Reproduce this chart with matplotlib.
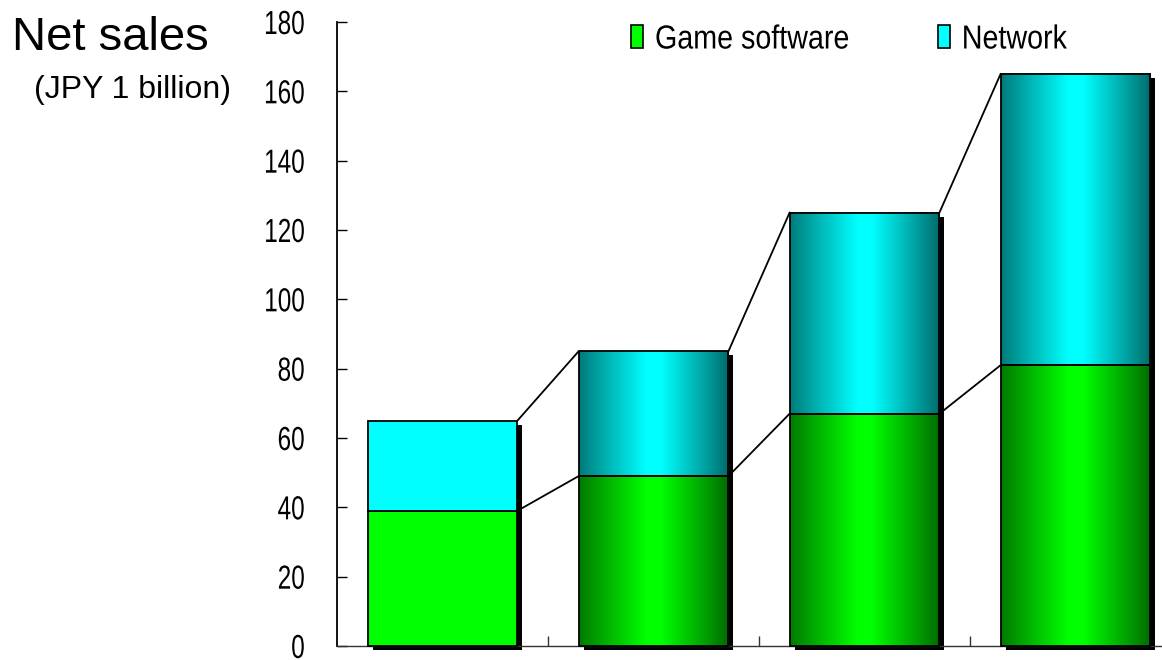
import numpy as np
import matplotlib
matplotlib.use("Agg")
import matplotlib.pyplot as plt
from matplotlib import font_manager as fm
from matplotlib.patches import Patch
from matplotlib.patheffects import AbstractPathEffect
from matplotlib.transforms import ScaledTranslation, Affine2D

# ---- data ----
categories = ["FY1", "FY2", "FY3", "FY4"]
game_software = [39, 49, 67, 81]
network = [26, 36, 58, 84]
y_ticks = [0, 20, 40, 60, 80, 100, 120, 140, 160, 180]
series_names = ["Game software", "Network"]
gradient_bar = [False, True, True, True]


class HSqueeze(AbstractPathEffect):
    """Draw text narrower (condensed look), anchored left or right."""

    def __init__(self, sx, anchor="left"):
        super().__init__()
        self.sx = sx
        self.anchor = anchor

    def draw_path(self, renderer, gc, tpath, affine, rgbFace=None):
        px = tpath.get_extents().x1 if self.anchor == "right" else 0.0
        tr = Affine2D().translate(-px, 0).scale(self.sx, 1).translate(px, 0) + affine
        renderer.draw_path(gc, tpath, tr, rgbFace)


# ---- fonts ----
names = {f.name for f in fm.fontManager.ttflist}
main_family = "Liberation Sans" if "Liberation Sans" in names else "DejaVu Sans"

W, H, DPI = 1162, 660, 100
fig = plt.figure(figsize=(W / DPI, H / DPI), dpi=DPI)
ax = fig.add_axes([337 / W, 14 / H, 844 / W, 624 / H])

x = np.arange(len(categories)) + 0.5
width = 0.71
totals = [g + n for g, n in zip(game_software, network)]

# shadows
shadow_tr = ax.transData + ScaledTranslation(5 / DPI, -4 / DPI, fig.dpi_scale_trans)
ax.bar(x, totals, width=width, color="black", zorder=1, transform=shadow_tr,
       clip_on=False, linewidth=0)

game_bars = ax.bar(x, game_software, width=width, color="#00FF00",
                   edgecolor="black", linewidth=1.3, zorder=3, clip_on=False)
net_bars = ax.bar(x, network, bottom=game_software, width=width, color="#00FFFF",
                  edgecolor="black", linewidth=1.3, zorder=3, clip_on=False)

# gradient fills
t = np.linspace(0, 1, 256)
v = np.interp(t, [0, 0.15, 0.45, 0.55, 0.85, 1.0], [0.48, 0.66, 1.0, 1.0, 0.62, 0.42])
grad_green = np.zeros((1, 256, 3))
grad_green[0, :, 1] = v
grad_cyan = np.zeros((1, 256, 3))
grad_cyan[0, :, 1] = v
grad_cyan[0, :, 2] = v
for bars, grad in ((game_bars, grad_green), (net_bars, grad_cyan)):
    for b, g in zip(bars, gradient_bar):
        if g:
            x0, y0, bw, bh = b.get_x(), b.get_y(), b.get_width(), b.get_height()
            ax.imshow(grad, extent=[x0, x0 + bw, y0, y0 + bh], aspect="auto",
                      interpolation="bilinear", zorder=2.5)
            b.set_facecolor("none")

# connecting lines
for i in range(len(categories) - 1):
    xs = [x[i] + width / 2, x[i + 1] - width / 2]
    ax.plot(xs, [game_software[i], game_software[i + 1]], color="black", lw=1.3, zorder=4)
    ax.plot(xs, [totals[i], totals[i + 1]], color="black", lw=1.3, zorder=4)

ax.set_xlim(0, len(categories))
ax.set_ylim(0, 180)
ax.set_aspect("auto")

for s in ("top", "right"):
    ax.spines[s].set_visible(False)
ax.spines["left"].set_linewidth(1.3)
ax.spines["bottom"].set_linewidth(1.0)
ax.spines["bottom"].set_color("#333333")

ax.set_xticks([1, 2, 3])
ax.set_xticklabels([])
ax.tick_params(axis="x", direction="in", length=7.5, width=1.0, color="#333333")
ax.set_yticks(y_ticks)
ax.set_yticklabels([str(v_) for v_ in y_ticks])
ax.tick_params(axis="y", direction="in", length=7, width=1.0, pad=23)
for lab in ax.yaxis.get_majorticklabels():
    lab.set_fontfamily(main_family)
    lab.set_fontsize(24)
    lab.set_path_effects([HSqueeze(0.73, "right")])

# titles
fig.text(12 / W, 1 - 50 / H, "Net sales", fontsize=34, family=main_family,
         ha="left", va="baseline")
fig.text(34 / W, 1 - 98 / H, "(JPY 1 billion)", fontsize=23, family=main_family,
         ha="left", va="baseline")

# legend
handles = [Patch(facecolor="#00FF00", edgecolor="black", linewidth=1.2),
           Patch(facecolor="#00FFFF", edgecolor="black", linewidth=1.2)]
leg = fig.legend(handles, series_names, loc="center left",
                 bbox_to_anchor=(631 / W, 1 - 40 / H), ncol=2, frameon=False,
                 borderpad=0, borderaxespad=0, handlelength=0.37, handleheight=0.68,
                 handletextpad=0.35, columnspacing=1.7,
                 prop=fm.FontProperties(family=main_family, size=24))
for txt in leg.get_texts():
    txt.set_path_effects([HSqueeze(0.86, "left")])

fig.savefig("out.png", dpi=DPI)
